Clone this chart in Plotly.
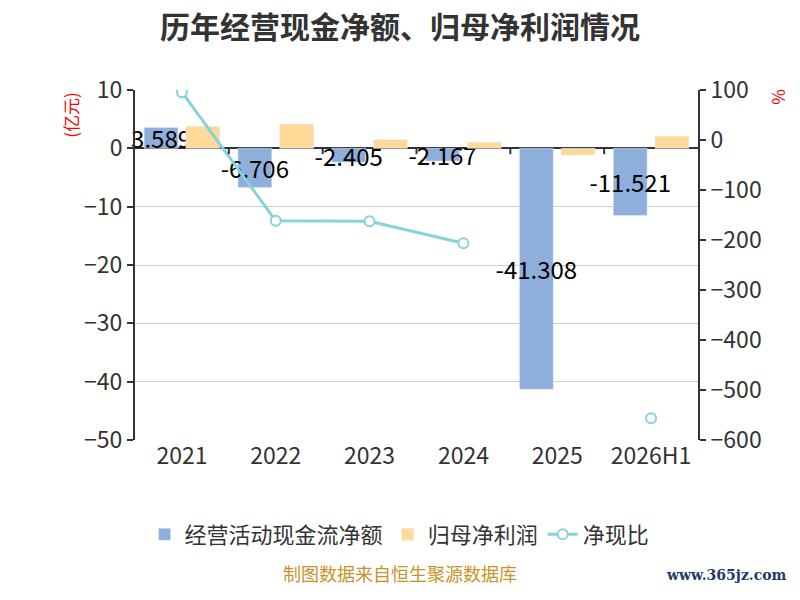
import plotly.graph_objects as go

years = ['2021', '2022', '2023', '2024', '2025', '2026H1']
cash_flow = [3.589, -6.706, -2.405, -2.167, -41.308, -11.521]
net_profit = [3.78, 4.15, 1.48, 1.05, -1.15, 2.07]
cash_ratio = [95.7, -161.6, -162.5, -206.4, None, -556.6]

font_cn = 'Noto Sans CJK SC'
blue = '#8eaedc'
orange = '#fed998'
teal = '#86d3d8'

fig = go.Figure()

fig.add_trace(go.Bar(
    x=years, y=cash_flow, name='经营活动现金流净额',
    marker_color=blue,
    text=[f'{v:.3f}' for v in cash_flow],
    textposition='inside', insidetextanchor='middle', textangle=0,
    insidetextfont=dict(color='black', size=24, family=font_cn),
    constraintext='none', cliponaxis=False,
))
fig.add_trace(go.Bar(
    x=years, y=net_profit, name='归母净利润',
    marker_color=orange,
))
fig.add_trace(go.Scatter(
    x=years, y=cash_ratio, name='净现比', yaxis='y2',
    mode='lines+markers', connectgaps=False,
    line=dict(color=teal, width=3),
    marker=dict(symbol='circle', size=10, color='white',
                line=dict(color=teal, width=2)),
))

# small ticks on the zero line at category boundaries
for i in range(1, len(years)):
    fig.add_shape(type='line', xref='x', yref='y',
                  x0=i - 0.5, x1=i - 0.5, y0=0, y1=-1.0,
                  line=dict(color='#333333', width=2))

# page body has an 8px margin, so offsets are shifted by 8
fig.update_layout(
    width=800, height=600,
    paper_bgcolor='white', plot_bgcolor='white',
    margin=dict(l=127, r=110, t=82, b=168),
    font=dict(family=font_cn, color='#333333'),
    title=dict(text='<b>历年经营现金净额、归母净利润情况</b>',
               x=(400 - 8) / 800, xanchor='center', y=1 - 19 / 600,
               yanchor='middle', yref='container',
               font=dict(size=30, color='#333333')),
    barmode='group', bargap=0.11, bargroupgap=0.19,
    uniformtext=dict(minsize=24, mode='show'),
    xaxis=dict(showgrid=False, showline=False, ticks='',
               tickfont=dict(size=23, color='#333333')),
    yaxis=dict(range=[-50, 10], dtick=10, showgrid=True, gridcolor='#cccccc',
               gridwidth=1, showline=True, linecolor='#333333', linewidth=2,
               ticks='outside', ticklen=6, tickcolor='#333333', tickwidth=2,
               zeroline=True, zerolinecolor='#333333', zerolinewidth=2,
               tickfont=dict(size=23, color='#333333')),
    yaxis2=dict(range=[-600, 100], dtick=100, overlaying='y', side='right',
                showgrid=False, zeroline=False, showline=True,
                linecolor='#333333', linewidth=2, ticks='outside', ticklen=6,
                tickcolor='#333333', tickwidth=2,
                tickfont=dict(size=23, color='#333333')),
    legend=dict(orientation='h', x=0.47, xanchor='center', y=-0.27,
                yanchor='middle', font=dict(size=22, color='#333333'),
                itemwidth=30, traceorder='normal'),
    annotations=[
        dict(text='(亿元)', xref='paper', yref='paper', x=-0.115, y=0.93,
             xanchor='center', yanchor='middle',
             textangle=-90, showarrow=False,
             font=dict(size=17, color='red')),
        dict(text='%', xref='paper', yref='paper', x=1.14, y=0.98,
             xanchor='center', yanchor='middle',
             textangle=-90, showarrow=False,
             font=dict(size=17, color='red')),
        dict(text='制图数据来自恒生聚源数据库', xref='paper', yref='paper',
             x=0.4707, y=-0.423, xanchor='center', showarrow=False,
             font=dict(size=18, color='#c8922a')),
        dict(text='<b>www.365jz.com</b>', xref='paper', yref='paper',
             x=1.05, y=-0.415, xanchor='center', showarrow=False,
             font=dict(size=14, color='#1f3a6b', family='DejaVu Serif')),
    ],
)

fig.write_html('out.html')
